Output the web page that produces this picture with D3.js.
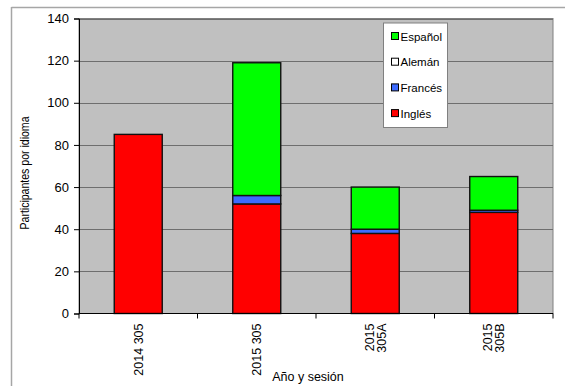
<!DOCTYPE html>
<html><head><meta charset="utf-8">
<script src="https://cdn.jsdelivr.net/npm/d3@7"></script>
<style>
html,body{margin:0;padding:0;background:#fff;}
svg{display:block;font-family:"Liberation Sans",Arial,sans-serif;}
</style></head>
<body>
<svg id="chart" width="565" height="386"></svg>
<script>
const categories = [["2014 305"], ["2015 305"], ["2015", "305A"], ["2015", "305B"]];
const seriesNames = ["Inglés", "Francés", "Alemán", "Español"];
const ingles  = [85, 52, 38, 48];
const frances = [0, 4, 2, 1];
const aleman  = [0, 0, 0, 0];
const espanol = [0, 63, 20, 16];
const yTicks = [0, 20, 40, 60, 80, 100, 120, 140];
const colors = {"Inglés": "#ff0000", "Francés": "#3d6bff", "Alemán": "#ffffff", "Español": "#00ff00"};
const legendOrder = ["Español", "Alemán", "Francés", "Inglés"];

const svg = d3.select("#chart");
const m = {left: 79, top: 18.5, right: 553, bottom: 313.5};

svg.append("line").attr("x1", 11.5).attr("x2", 565).attr("y1", 7.5).attr("y2", 7.5).attr("stroke", "#a6a6a6").attr("stroke-width", 1.5);
svg.append("line").attr("x1", 11.5).attr("x2", 11.5).attr("y1", 7).attr("y2", 386).attr("stroke", "#a6a6a6").attr("stroke-width", 1.5);

const keys = categories.map(c => c.join(" "));
const x = d3.scaleBand().domain(keys).range([m.left, m.right]).paddingInner(0.595).paddingOuter(0.2975);
const xb = d3.scaleBand().domain(keys).range([m.left, m.right]);
const y = d3.scaleLinear().domain([0, 140]).range([m.bottom, m.top]);

svg.append("rect").attr("x", m.left).attr("y", m.top).attr("width", m.right - m.left).attr("height", m.bottom - m.top)
  .attr("fill", "#c0c0c0").attr("stroke", "#808080").attr("stroke-width", 1);

svg.append("g").selectAll("line").data(yTicks.filter(t => t > 0)).join("line")
  .attr("x1", m.left).attr("x2", m.right)
  .attr("y1", d => Math.round(y(d)) + 0.5).attr("y2", d => Math.round(y(d)) + 0.5)
  .attr("stroke", "#6e6e6e").attr("stroke-width", 1);

const table = keys.map((k, i) => ({key: k, "Inglés": ingles[i], "Francés": frances[i], "Alemán": aleman[i], "Español": espanol[i]}));
const stack = d3.stack().keys(seriesNames)(table);
const gb = svg.append("g");
stack.forEach(layer => {
  gb.selectAll(null).data(layer.filter(d => d[1] - d[0] > 0)).join("rect")
    .attr("x", d => x(d.data.key)).attr("width", x.bandwidth())
    .attr("y", d => y(d[1])).attr("height", d => y(d[0]) - y(d[1]))
    .attr("fill", colors[layer.key]).attr("stroke", "#111").attr("stroke-width", 1.4);
});

const yAxis = svg.append("g").attr("transform", `translate(${m.left},0)`)
  .call(d3.axisLeft(y).tickValues(yTicks).tickSize(5).tickPadding(5));
yAxis.select(".domain").attr("stroke", "#000");
yAxis.selectAll(".tick line").attr("stroke", "#000");
yAxis.selectAll("text").attr("font-size", 13).attr("fill", "#000").attr("font-family", "Liberation Sans, Arial, sans-serif");

const xAxis = svg.append("g").attr("transform", `translate(0,${m.bottom})`);
xAxis.append("line").attr("x1", m.left).attr("x2", m.right).attr("y1", 0).attr("y2", 0).attr("stroke", "#000");
const bounds = keys.map(k => xb(k)).concat([m.right]);
xAxis.selectAll(".tk").data(bounds).join("line").attr("class", "tk")
  .attr("x1", d => d).attr("x2", d => d).attr("y1", 0).attr("y2", 5).attr("stroke", "#000");
const lab = xAxis.selectAll(".lab").data(categories).join("text").attr("class", "lab")
  .attr("transform", (d, i) => `translate(${xb(keys[i]) + xb.bandwidth() / 2},10) rotate(-90)`)
  .attr("text-anchor", "end").attr("font-size", 12.5).attr("fill", "#000");
lab.each(function(d) {
  const t = d3.select(this);
  const n = d.length;
  d.forEach((s, j) => {
    t.append("tspan").attr("x", 0).attr("y", (j - (n - 1) / 2) * 12 + 4.5).text(s);
  });
});

svg.append("text").attr("x", 308).attr("y", 381).attr("text-anchor", "middle").attr("font-size", 12.5).attr("fill", "#000").text("Año y sesión");
svg.append("text").attr("transform", `translate(29,173) rotate(-90)`).attr("text-anchor", "middle")
  .attr("font-size", 12.5).attr("fill", "#000").attr("textLength", 113).attr("lengthAdjust", "spacingAndGlyphs")
  .text("Participantes por idioma");

const lg = svg.append("g").attr("transform", "translate(383.5,23)");
lg.append("rect").attr("width", 64).attr("height", 104.5).attr("fill", "#fff").attr("stroke", "#808080").attr("stroke-width", 1);
const li = lg.selectAll(".li").data(legendOrder).join("g").attr("class", "li")
  .attr("transform", (d, i) => `translate(0,${13 + i * 25.7})`);
li.append("rect").attr("x", 8).attr("y", -3.5).attr("width", 7).attr("height", 7)
  .attr("fill", d => colors[d]).attr("stroke", "#000").attr("stroke-width", 1);
li.append("text").attr("x", 17).attr("y", 4.5).attr("font-size", 11.5).attr("fill", "#000").text(d => d);
</script>
</body></html>
